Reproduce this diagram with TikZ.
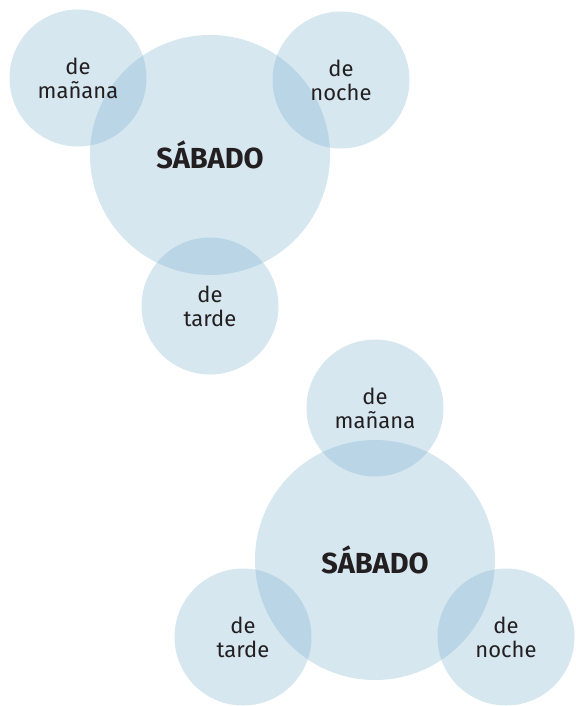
\documentclass[tikz,border=0pt]{standalone}
\usepackage{fontspec}
\setmainfont{Fira Sans}
\definecolor{dia}{RGB}{127,180,208}
\definecolor{ink}{RGB}{35,31,32}

\begin{document}
\begin{tikzpicture}[x=1pt,y=-1pt]

      \useasboundingbox (0,0) rectangle (575,706);

      \begin{scope}[every node/.style={circle,fill=dia,fill opacity=0.32,text opacity=1,text=ink,align=center,inner sep=0pt}]

        % primer grupo
        \node[minimum size=240pt,font=\bfseries\fontsize{29}{32}\selectfont] (sab1) at (210,155) {SÁBADO};
        \node[minimum size=137pt,font=\fontsize{22}{24}\selectfont] (man1) at (78,78)   {de\\mañana};
        \node[minimum size=137pt,font=\fontsize{22}{24}\selectfont] (noc1) at (341,80)  {de\\noche};
        \node[minimum size=137pt,font=\fontsize{22}{24}\selectfont] (tar1) at (210,306) {de\\tarde};

        % segundo grupo
        \node[minimum size=240pt,font=\bfseries\fontsize{29}{32}\selectfont] (sab2) at (375,560) {SÁBADO};
        \node[minimum size=137pt,font=\fontsize{22}{24}\selectfont] (man2) at (375,408) {de\\mañana};
        \node[minimum size=137pt,font=\fontsize{22}{24}\selectfont] (tar2) at (243,637) {de\\tarde};
        \node[minimum size=137pt,font=\fontsize{22}{24}\selectfont] (noc2) at (506,637) {de\\noche};

      \end{scope}

    \end{tikzpicture}
\end{document}
